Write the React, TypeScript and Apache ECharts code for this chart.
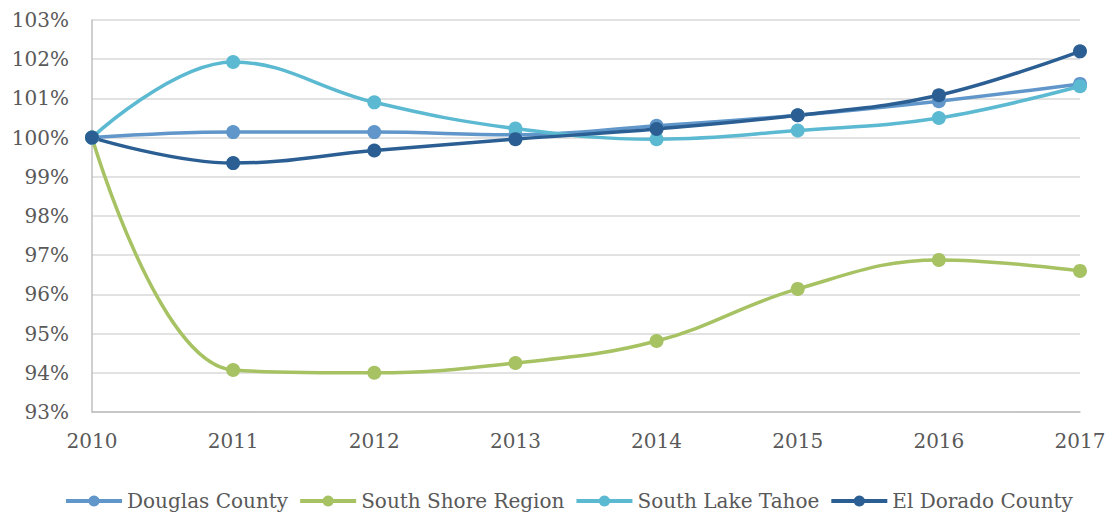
import React, { useEffect, useRef } from "react";
import * as echarts from "echarts";

const years = ["2010", "2011", "2012", "2013", "2014", "2015", "2016", "2017"];
const douglas = [100, 100.14, 100.14, 100.07, 100.3, 100.57, 100.93, 101.37];
const southShore = [100, 94.07, 94.0, 94.25, 94.81, 96.14, 96.88, 96.6];
const southLake = [100, 101.93, 100.9, 100.23, 99.96, 100.18, 100.5, 101.31];
const elDorado = [100, 99.35, 99.67, 99.96, 100.22, 100.57, 101.08, 102.2];

const seriesNames = ["Douglas County", "South Shore Region", "South Lake Tahoe", "El Dorado County"];
const seriesColors = ["#6096c9", "#a6c263", "#5bb9d1", "#2b5f93"];
const seriesData = [douglas, southShore, southLake, elDorado];

const FONT = "DejaVu Serif";

export default function App() {
  const ref = useRef<HTMLDivElement>(null);
  useEffect(() => {
    if (!ref.current) return;
    const chart = echarts.init(ref.current, null, { renderer: "svg" });
    chart.setOption({
      animation: false,
      textStyle: { fontFamily: FONT },
      grid: { left: 92, right: 33, top: 20, bottom: 100, containLabel: false },
      legend: {
        top: 486,
        left: 59,
        itemWidth: 56,
        itemHeight: 14,
        itemGap: 10,
        lineStyle: { width: 4 },
        textStyle: { fontFamily: FONT, fontSize: 20, color: "#595959" },
        data: seriesNames,
      },
      xAxis: {
        type: "category",
        data: years,
        boundaryGap: false,
        axisLine: { lineStyle: { color: "#bfbfbf", width: 1.5 } },
        axisTick: { show: false },
        axisLabel: { fontFamily: FONT, fontSize: 20, color: "#595959", margin: 19 },
      },
      yAxis: {
        type: "value",
        min: 93,
        max: 103,
        interval: 1,
        axisLine: { show: true, lineStyle: { color: "#bfbfbf", width: 1.5 } },
        axisTick: { show: false },
        splitLine: { lineStyle: { color: "#d9d9d9", width: 1.5 } },
        axisLabel: {
          fontFamily: FONT,
          fontSize: 20,
          color: "#595959",
          margin: 23,
          formatter: (v: number) => `${Math.round(v)}%`,
        },
      },
      series: seriesData.map((d, i) => ({
        name: seriesNames[i],
        type: "line",
        data: d,
        smooth: 0.4,
        symbol: "circle",
        symbolSize: 14,
        color: seriesColors[i],
        lineStyle: { width: 3.5, color: seriesColors[i] },
        itemStyle: { color: seriesColors[i] },
      })),
    });
    return () => chart.dispose();
  }, []);
  return (
    <div
      ref={ref}
      style={{ position: "absolute", left: 0, top: 0, width: 1113, height: 512 }}
    />
  );
}
